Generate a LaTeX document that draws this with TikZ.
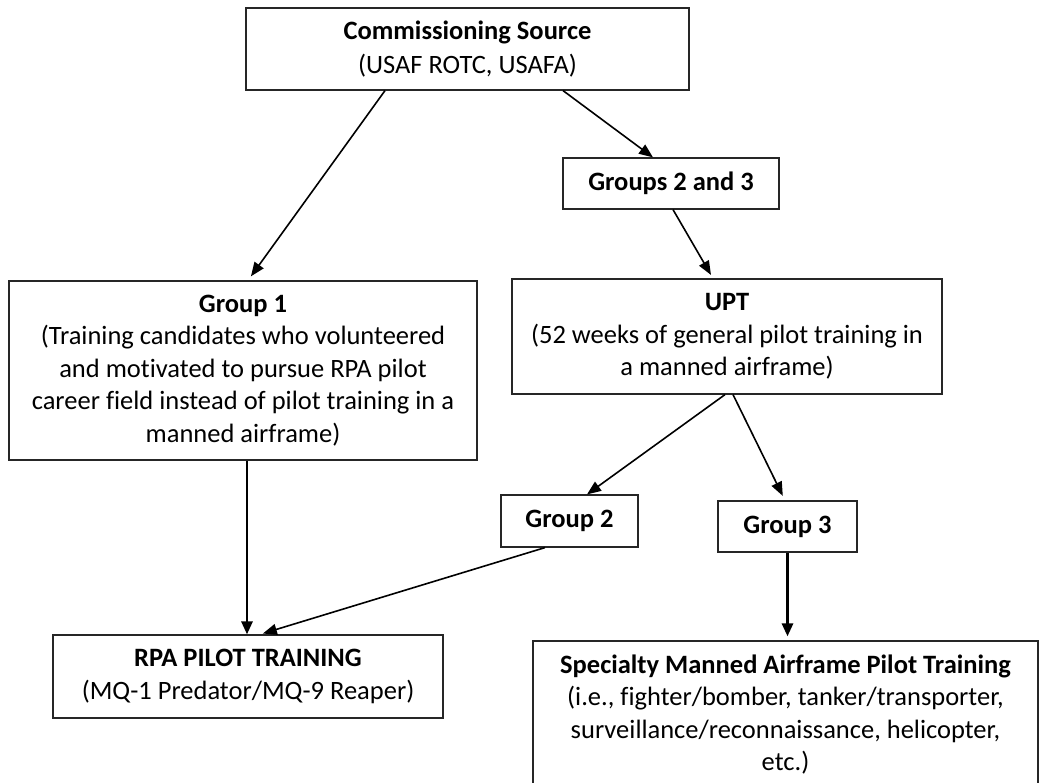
\documentclass[tikz,border=0pt]{standalone}
\usepackage{fontspec}
\setmainfont{Carlito}[Ligatures={NoCommon}]
\usetikzlibrary{arrows.meta,positioning}
\begin{document}
\begin{tikzpicture}[x=1pt,y=-1pt,
  box/.style={draw=black!85,line width=1.2pt,align=center,inner sep=0pt,
    font=\fontsize{26.5}{32.5}\selectfont},
  conn/.style={line width=1.6pt,-{Triangle[length=14pt,width=11pt]}},
  thickconn/.style={line width=2.8pt,-{Triangle[length=13pt,width=11pt]}}]
\clip (0,0) rectangle (1041,783);
\fill[white] (0,0) rectangle (1041,783);

\node[box,minimum width=443pt,minimum height=82pt,font=\fontsize{26.5}{34}\selectfont] (cs) at (467.5,49)
  {\textbf{Commissioning Source}\\(USAF ROTC, USAFA)};
\node[box,minimum width=216pt,minimum height=51pt] (g23) at (671,183.5)
  {\textbf{Groups 2 and 3}};
\node[box,minimum width=468pt,minimum height=179pt] (g1) at (243,370.5)
  {\textbf{Group 1}\\(Training candidates who volunteered\\and motivated to pursue RPA pilot\\career field instead of pilot training in a\\manned airframe)};
\node[box,minimum width=430pt,minimum height=115pt] (upt) at (727,336.5)
  {\textbf{UPT}\\(52 weeks of general pilot training in\\a manned airframe)};
\node[box,minimum width=137pt,minimum height=52pt] (g2) at (569.5,521)
  {\textbf{Group 2}};
\node[box,minimum width=139pt,minimum height=51pt] (g3) at (787.5,526.5)
  {\textbf{Group 3}};
\node[box,minimum width=390pt,minimum height=83pt] (rpa) at (248,676.5)
  {\textbf{RPA PILOT TRAINING}\\(MQ-1 Predator/MQ-9 Reaper)};
\node[box,minimum width=505pt,minimum height=147pt] (spec) at (785.5,714.5)
  {\textbf{Specialty Manned Airframe Pilot Training}\\(i.e., fighter/bomber, tanker/transporter,\\surveillance/reconnaissance, helicopter,\\etc.)};

\draw[conn,shorten >=5pt] ([xshift=-82.5pt]cs.south) -- ([xshift=5pt]g1.north);
\draw[conn] ([xshift=95.5pt]cs.south) -- ([xshift=-18pt]g23.north);
\draw[conn,shorten >=4pt] ([xshift=2pt]g23.south) -- ([xshift=-14pt]upt.north);
\draw[conn] ([xshift=-2pt]upt.south) -- ([xshift=17.5pt]g2.north);
\draw[conn,shorten >=5pt] ([xshift=6pt]upt.south) -- ([xshift=-2.5pt]g3.north);
\draw[thickconn] ([xshift=4pt]g1.south) -- ([xshift=-1pt]rpa.north);
\draw[conn,shorten >=3pt] ([xshift=-24.5pt]g2.south) -- ([xshift=12pt]rpa.north);
\draw[thickconn,shorten >=4pt] (g3.south) -- (g3.south |- spec.north);
\end{tikzpicture}
\end{document}
